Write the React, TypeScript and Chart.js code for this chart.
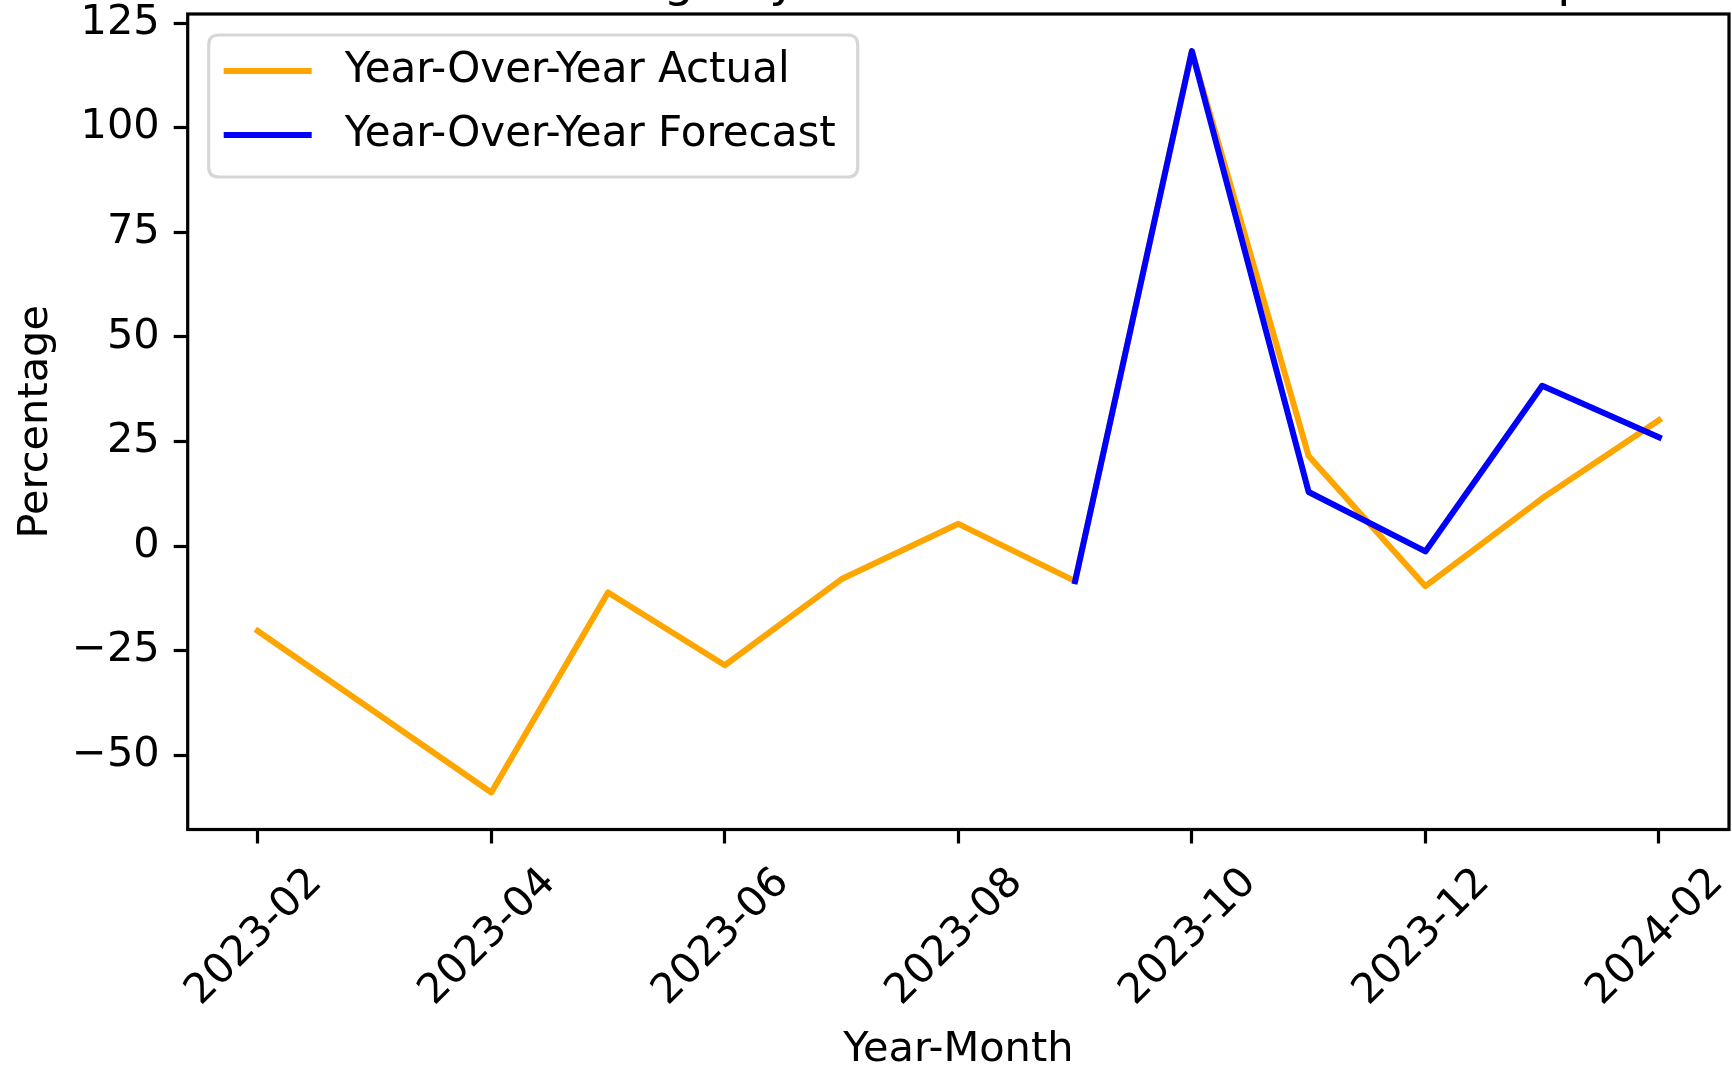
import React, { useEffect, useRef } from "react";
import { Chart, registerables } from "chart.js";

Chart.register(...registerables);

// ---- data ----
const categories = [
  "2023-02", "2023-03", "2023-04", "2023-05", "2023-06", "2023-07", "2023-08",
  "2023-09", "2023-10", "2023-11", "2023-12", "2024-01", "2024-02",
];
const actualValues: (number | null)[] = [
  -20.3, -39.6, -58.9, -11.1, -28.5, -7.9, 5.3, -8.4, 118.3, 21.5, -9.6, 11.4, 30.1,
];
const forecastValues: (number | null)[] = [
  null, null, null, null, null, null, null, -8.4, 118.3, 12.9, -1.3, 38.3, 26.0,
];
const seriesLabels = ["Year-Over-Year Actual", "Year-Over-Year Forecast"];
const seriesColors = ["#FFA500", "#0000FF"];
const yTickValues = [-50, -25, 0, 25, 50, 75, 100, 125];
const xTickIndices = [0, 2, 4, 6, 8, 10, 12];
const titleText = "Year-Over-Year Change by Month: Actual vs Forecast Comparison";
const xAxisTitle = "Year-Month";
const yAxisTitle = "Percentage";

const FONT = '"DejaVu Sans", sans-serif';
const FS = 41.5;

const framePlugin = {
  id: "frame",
  afterDatasetsDraw(chart: any) {
    const { ctx, chartArea } = chart;
    ctx.save();
    ctx.strokeStyle = "#000";
    ctx.lineWidth = 3.2;
    ctx.strokeRect(chartArea.left, chartArea.top, chartArea.right - chartArea.left, chartArea.bottom - chartArea.top);
    ctx.restore();
  },
};

const legendPlugin = {
  id: "mplLegend",
  afterDraw(chart: any) {
    const { ctx, chartArea } = chart;
    const x0 = chartArea.left + 21;
    const y0 = chartArea.top + 21;
    const w = 649;
    const h = 142;
    const r = 10;
    ctx.save();
    ctx.beginPath();
    ctx.moveTo(x0 + r, y0);
    ctx.lineTo(x0 + w - r, y0);
    ctx.quadraticCurveTo(x0 + w, y0, x0 + w, y0 + r);
    ctx.lineTo(x0 + w, y0 + h - r);
    ctx.quadraticCurveTo(x0 + w, y0 + h, x0 + w - r, y0 + h);
    ctx.lineTo(x0 + r, y0 + h);
    ctx.quadraticCurveTo(x0, y0 + h, x0, y0 + h - r);
    ctx.lineTo(x0, y0 + r);
    ctx.quadraticCurveTo(x0, y0, x0 + r, y0);
    ctx.closePath();
    ctx.fillStyle = "rgba(255,255,255,0.8)";
    ctx.fill();
    ctx.strokeStyle = "rgba(204,204,204,0.8)";
    ctx.lineWidth = 3.2;
    ctx.stroke();
    chart.data.datasets.forEach((ds: any, i: number) => {
      const y = y0 + 36 + i * 64;
      ctx.beginPath();
      ctx.strokeStyle = ds.borderColor;
      ctx.lineWidth = 6;
      ctx.lineCap = "square";
      ctx.moveTo(x0 + 18, y);
      ctx.lineTo(x0 + 100, y);
      ctx.stroke();
      ctx.fillStyle = "#000";
      ctx.font = `42px ${FONT}`;
      ctx.textAlign = "left";
      ctx.textBaseline = "middle";
      ctx.fillText(ds.label, x0 + 136, y);
    });
    ctx.restore();
  },
};

const titlePlugin = {
  id: "cutTitle",
  afterDraw(chart: any) {
    const { ctx, chartArea } = chart;
    ctx.save();
    ctx.fillStyle = "#000";
    ctx.font = `48px ${FONT}`;
    ctx.textAlign = "center";
    ctx.textBaseline = "alphabetic";
    ctx.fillText(titleText, (chartArea.left + chartArea.right) / 2, -4);
    ctx.restore();
  },
};

export default function App() {
  const canvasRef = useRef<HTMLCanvasElement | null>(null);

  useEffect(() => {
    document.body.style.margin = "0";
    const canvas = canvasRef.current;
    if (!canvas) return;

    const allVals = [...actualValues, ...forecastValues].filter((v) => v != null) as number[];
    const yMinData = Math.min(...allVals);
    const yMaxData = Math.max(...allVals);
    const yPad = (yMaxData - yMinData) * 0.05;
    const xPad = (categories.length - 1) * 0.05;

    const makeData = (vals: (number | null)[]) => vals.map((v, i) => ({ x: i, y: v }));

    const chart = new Chart(canvas, {
      type: "line",
      data: {
        datasets: [
          {
            label: seriesLabels[0],
            data: makeData(actualValues) as any,
            borderColor: seriesColors[0],
            backgroundColor: seriesColors[0],
            borderWidth: 6,
            pointRadius: 0,
            fill: false,
            tension: 0,
            borderCapStyle: "square",
            borderJoinStyle: "round",
            order: 2,
          },
          {
            label: seriesLabels[1],
            data: makeData(forecastValues) as any,
            borderColor: seriesColors[1],
            backgroundColor: seriesColors[1],
            borderWidth: 6,
            pointRadius: 0,
            fill: false,
            tension: 0,
            spanGaps: false,
            borderCapStyle: "square",
            borderJoinStyle: "round",
            order: 1,
          },
        ],
      },
      options: {
        responsive: false,
        animation: false,
        devicePixelRatio: 1,
        layout: { padding: { left: 0, top: 14, right: 3, bottom: 0 } },
        plugins: {
          legend: { display: false },
          tooltip: { enabled: false },
          title: { display: false },
        },
        scales: {
          x: {
            type: "linear",
            position: "bottom",
            min: -xPad,
            max: categories.length - 1 + xPad,
            afterBuildTicks: (s: any) => {
              s.ticks = xTickIndices.map((v) => ({ value: v }));
            },
            afterFit: (s: any) => {
              s.height = 240.5;
              s.paddingLeft = 0;
              s.paddingRight = 0;
            },
            ticks: {
              autoSkip: false,
              minRotation: 45,
              maxRotation: 45,
              padding: 15,
              labelOffset: 58,
              color: "#000",
              font: { family: FONT, size: FS },
              callback: (v: any) => categories[Number(v)] ?? "",
            },
            grid: {
              display: true,
              drawOnChartArea: false,
              drawTicks: true,
              tickLength: 14,
              tickWidth: 3.2,
              tickColor: "#000",
            },
            border: { display: false },
            title: {
              display: true,
              text: xAxisTitle,
              color: "#000",
              font: { family: FONT, size: FS },
              padding: { top: 0, bottom: -5 },
            },
          },
          y: {
            type: "linear",
            position: "left",
            min: yMinData - yPad,
            max: yMaxData + yPad,
            afterBuildTicks: (s: any) => {
              s.ticks = yTickValues.map((v) => ({ value: v }));
            },
            afterFit: (s: any) => {
              s.width = 187.7;
              s.paddingTop = 0;
              s.paddingBottom = 0;
            },
            ticks: {
              padding: 14,
              color: "#000",
              font: { family: FONT, size: FS },
              callback: (v: any) => (Number(v) < 0 ? "\u2212" + Math.abs(Number(v)) : String(v)),
            },
            grid: {
              display: true,
              drawOnChartArea: false,
              drawTicks: true,
              tickLength: 14,
              tickWidth: 3.2,
              tickColor: "#000",
            },
            border: { display: false },
            title: {
              display: true,
              text: yAxisTitle,
              color: "#000",
              font: { family: FONT, size: FS },
              padding: { top: 11, bottom: 0 },
            },
          },
        },
      } as any,
      plugins: [framePlugin, legendPlugin, titlePlugin],
    });

    return () => {
      chart.destroy();
    };
  }, []);

  return (
    <div style={{ position: "absolute", left: 0, top: 0, width: 1732, height: 1070, background: "#fff" }}>
      <canvas ref={canvasRef} width={1732} height={1070} style={{ width: 1732, height: 1070, display: "block" }} />
    </div>
  );
}
